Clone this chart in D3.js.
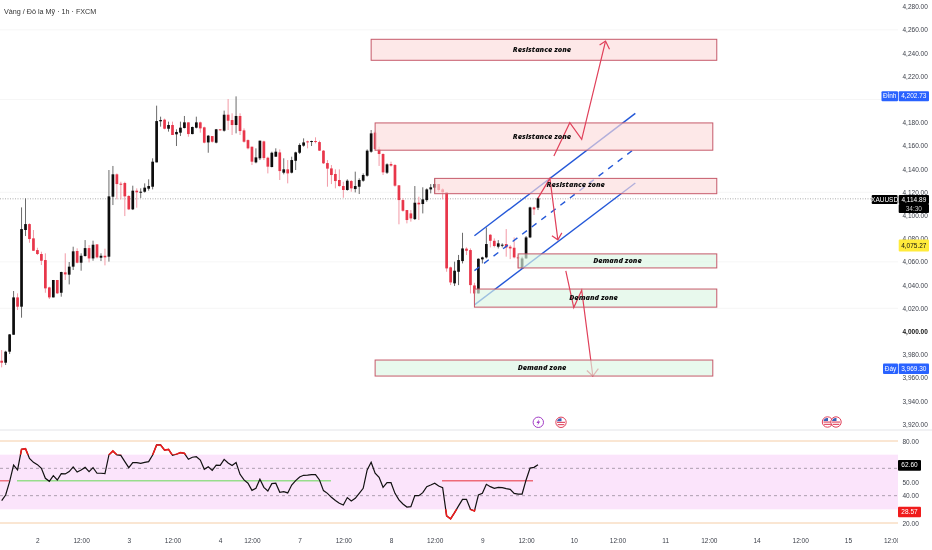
<!DOCTYPE html>
<html lang="vi">
<head>
  <meta charset="UTF-8" />
  <title>XAUUSD 1h</title>
  <script src="https://cdn.jsdelivr.net/npm/d3@7/dist/d3.min.js"></script>
  <style>
    html, body { margin: 0; padding: 0; background: #fff; }
    svg { display: block; font-family: "Liberation Sans", Arial, sans-serif; filter: blur(0.3px); }
    .tick-label text { font-size: 6.5px; fill: #3a3e48; }
    .zone-label { font-family: "Open Sans", sans-serif; font-size: 7.4px; font-weight: 800; font-style: italic; fill: #111; text-anchor: middle; dominant-baseline: middle; }
    .tag { font-size: 6.5px; text-anchor: middle; dominant-baseline: middle; }
  </style>
</head>
<body>
<svg id="chart" width="932" height="550"></svg>
<script>
// hourly candles
const opens = [3974.8,3973.1,3982.6,3997.2,4029.4,4021.4,4087.5,4092.6,4080.3,4070.2,4066.8,4061.6,4038,4029.4,4044.4,4033.4,4051,4049,4055.9,4069.4,4059.3,4065.1,4071.9,4063,4075.1,4063.6,4065.3,4064.5,4116.2,4135.5,4127.4,4128,4116.8,4105.3,4121.4,4119.7,4120.5,4123.1,4124.8,4145.8,4181.2,4182.6,4174.8,4178,4170,4171.4,4175.4,4180.3,4170.2,4175.7,4180.3,4176,4163,4168.5,4162.8,4174.3,4173.1,4186.9,4182.3,4178,4185.8,4173.4,4165,4159.3,4145.8,4149.3,4163.9,4149.8,4141.8,4150.7,4154.4,4136.9,4139.8,4136.9,4147.2,4154.1,4160.2,4163.9,4163.6,4164.2,4163.3,4155.9,4145.2,4140.6,4135.8,4130.6,4125.4,4122,4129.7,4122.8,4124.8,4130,4134.3,4155,4171.4,4157,4153,4136.9,4144.4,4143.5,4126,4113.3,4104.7,4101.8,4096.9,4111,4109.9,4113.3,4122.5,4124,4127.1,4122.5,4120,4055.3,4041.5,4051.5,4060.7,4071.4,4070.2,4039.7,4032.8,4062.2,4063.9,4083.4,4078.2,4073.1,4074,4075.4,4073.1,4072.2,4063.9,4054.4,4063,4081.1,4107,4106.7];
const highs = [3984,3983.4,3997.8,4034.9,4032.9,4107,4114.8,4093.2,4087.5,4072.2,4068.8,4067.4,4038.6,4044.4,4044.4,4051.5,4067.4,4059.9,4073.1,4071.7,4067.4,4078.8,4074.5,4078.3,4075.4,4067.4,4071.4,4139.2,4142.7,4136.3,4129.1,4129.1,4117.6,4125.7,4123.4,4123.4,4127.7,4131.2,4149.3,4194.7,4185.2,4183.5,4180.9,4180.9,4174.3,4180.9,4185.8,4180.3,4176.6,4185.2,4180.9,4176.6,4169.4,4168.5,4174.6,4174.3,4190.4,4200.4,4188.1,4202.7,4188.1,4175.1,4165.6,4159.3,4157.9,4164.5,4164.5,4150.7,4155,4157.9,4157,4149.3,4147.8,4150.7,4155,4162.2,4166.5,4164.5,4164.5,4167.4,4164.5,4156.4,4147.8,4143.5,4139.8,4139.8,4129.1,4131.2,4130.6,4137.8,4132,4136.3,4157,4173.7,4172.3,4159.3,4153.6,4145,4146.4,4144.4,4126.3,4114.8,4104.7,4104.7,4125.4,4116.2,4124.3,4123.4,4127.1,4132,4127.1,4123.4,4120,4055.9,4060.2,4066,4085.1,4072.5,4071.6,4042,4063,4064.5,4089.7,4084,4080.3,4078.8,4076,4088.3,4074.5,4081.1,4065.9,4064.5,4082.3,4107.6,4107.6,4115.6];
const lows = [3969.1,3971.1,3980.6,3997.2,4018.5,4011.9,4082.3,4076.5,4069.6,4065.9,4057.3,4033.4,4028,4029.4,4032.3,4030,4044.4,4040.6,4053,4058.7,4052.4,4064.5,4059.6,4061,4063,4060.7,4057,4060.2,4109,4113.9,4113.9,4099.5,4104.7,4104.7,4106.7,4115.1,4119.7,4121.4,4122.5,4145.8,4176.6,4174.3,4172.3,4169.4,4159.9,4168.5,4175.1,4167.9,4170,4175.1,4171.4,4162.2,4154.1,4162.8,4162.2,4173.1,4172.3,4173.7,4169.4,4170.8,4169.4,4162.8,4157,4143.5,4145,4147.8,4147.8,4136.3,4141.5,4150.7,4130.6,4135.5,4127.7,4136.3,4139.2,4153,4159.3,4157.9,4159.9,4162.2,4155.6,4144.4,4124.8,4127.1,4123.4,4124.8,4115.3,4121.4,4120.5,4119.9,4118.5,4129.1,4133.5,4154.1,4155.9,4142.7,4134.9,4135.8,4142.1,4124.8,4092.4,4103.3,4093.2,4094.7,4096.1,4096.1,4101.8,4111.9,4119.1,4119.1,4120.5,4113.9,4051.5,4040,4039.2,4040,4058.7,4065.9,4032.8,4024.2,4032.8,4058.7,4063,4072.5,4072.5,4071.6,4072.5,4064.5,4062.4,4063,4054.4,4054.4,4062.7,4080.5,4100.4,4104.7];
const closes = [3973.1,3982.6,3997.5,4029.4,4021.4,4088.3,4092.6,4079.7,4069.6,4066.8,4061,4037.2,4029.4,4044.4,4032.9,4051.3,4049.2,4055.9,4069.1,4059.3,4065.3,4071.9,4063,4074.8,4063.9,4065.3,4063.9,4116.5,4135.5,4127.1,4126.8,4116.5,4105.3,4121.4,4120,4120.5,4124,4125.4,4146.4,4181.4,4182.3,4174.8,4178,4169.4,4172,4175.7,4180.3,4170.2,4176.3,4180.3,4175.1,4162.8,4168.8,4163.6,4174.3,4173.7,4186.9,4181.7,4178,4185.8,4172.8,4163.6,4157.9,4146.4,4150.1,4164.5,4149.5,4142.1,4154.1,4155,4138.3,4139.8,4136.3,4147.8,4154.4,4160.8,4163,4163.3,4164.2,4163.6,4155.9,4145,4140.4,4134.9,4129.7,4125.4,4122,4130,4123.4,4125.4,4130.6,4134.9,4155.9,4170.8,4157.3,4153,4137.2,4144.1,4143,4125.7,4113.3,4104.1,4096.1,4097.5,4111,4109.6,4113.9,4122.5,4124.3,4127.1,4122,4120,4054.4,4042.3,4052.4,4061.6,4071.6,4069.6,4040,4032.8,4062.7,4063.9,4075.4,4078.2,4073.7,4076,4074.8,4072.5,4071.6,4063.9,4063.3,4063,4081.1,4107,4105.3,4114.89];

// RSI(14), one value per candle
const rsiValues = [36.4,40.5,50.3,62.4,58.8,73.9,74.4,67.3,64.4,62.7,60,52.7,50.5,54.6,51.5,56.1,55.9,57.6,61,57.3,58.8,60.7,57.6,60.5,56.4,56.4,56.1,69.8,72.7,69.8,69.5,64.9,60.5,64.2,64.2,63.7,64.4,64.9,69.8,77.1,77.1,73.4,73.9,69.5,70.3,71.5,71,66.6,68.1,68.5,66.1,59.3,61.2,58.5,62.4,62.2,66.6,63.9,62,64.2,55.6,51.5,49.1,43.9,45.4,52,46.1,43.4,48.8,49.1,42.5,42.9,42,47.8,51,53.7,54.9,55.1,55.4,55.4,51.5,43.7,41.7,38.8,36.4,34.4,33.2,38.6,36.1,38.1,41.7,45.4,58.8,64.4,56.4,53.4,46.1,49.5,49.5,41.7,36.9,33.9,31.7,32,40,40,42.2,46.6,47.8,49.1,47.1,45.9,25.2,23,27.6,32.5,37.3,37.3,30,28.8,40.5,41.7,48.3,46.6,45.4,46.1,45.9,45.1,44.6,41.7,41.2,41.2,51.5,60.2,60.7,62.6];

const priceTicks = [3920,3940,3960,3980,4000,4020,4040,4060,4080,4100,4120,4140,4160,4180,4220,4240,4260,4280];
const gridPrices = [4260,4200,4120,4060,4020];
const rsiTicks = [80,50,40,20];
const timeTickBars = [9,20,32,43,55,63,75,86,98,109,121,132,144,155,167,178,190,201,213,224];
const timeTickLabels = ["2","12:00","3","12:00","4","12:00","7","12:00","8","12:00","9","12:00","10","12:00","11","12:00","14","12:00","15","12:00"];

const lastPrice = 4114.89, highPrice = 4202.73, lowPrice = 3969.30, alertPrice = 4075.27;
const rsiLast = 62.60, rsiLow = 28.57;

// drawn zones: [first bar, last bar, top price, bottom price]
const zoneNames = ["Resistance zone","Resistance zone","Resistance zone","Demand zone","Demand zone","Demand zone"];
const zoneBars = [[93,180],[94,179],[109,180],[130,180],[119,180],[94,179]];
const zoneTops = [4251.9,4179.8,4132,4066.9,4036.6,3975.4];
const zoneBottoms = [4233.8,4156.3,4118.8,4054.8,4021,3961.6];
const zoneLabelBars = [136,136,144.5,155,149,136];
const zoneLabelPrices = [4243,4168,4126,4060.5,4029,3968.5];

// channel: [bar, price] ends of upper, middle and lower lines
const channelBars = [119,159.5];
const channelUpper = [4082.5,4188];
const channelMiddle = [4052.5,4158];
const channelLower = [4023,4128];

// forecast arrows as [bar, price]
const arrowUp = [[139,4151.3],[143,4180],[146,4165.7],[152,4250.4]];
const arrowUpHead = [[150.5,4247],[153,4243.3]];
const arrowTurn = [[135,4115],[138,4132],[140,4079]];
const arrowTurnHead = [[138.5,4082.5],[141,4085]];
const arrowDown = [[142,4052.2],[144,4020.6],[146,4035.6],[148.8,3961.6]];
const arrowDownHead = [[147.3,3966.4],[150.2,3967.9]];

const svg = d3.select("#chart");
const paneRight = 898, sepY = 430;

const x = d3.scaleLinear().domain([0,135]).range([1.67,538]);
const y = d3.scaleLinear().domain([3920,4280]).range([331.5 + 80*1.16, 331.5 - 280*1.16]);
const yRsi = d3.scaleLinear().domain([20,80]).range([523,441]);

const defs = svg.append("defs");
defs.append("clipPath").attr("id","time-clip").append("rect").attr("x",0).attr("y",-6).attr("width",paneRight).attr("height",20);
defs.append("clipPath").attr("id","rsi-high").append("rect").attr("x",0).attr("y",430).attr("width",paneRight).attr("height",yRsi(70)-430);
defs.append("clipPath").attr("id","rsi-low").append("rect").attr("x",0).attr("y",yRsi(30)).attr("width",paneRight).attr("height",530-yRsi(30));

// faint grid
svg.append("g").selectAll("line").data(gridPrices).join("line")
  .attr("x1",0).attr("x2",paneRight).attr("y1",d=>y(d)).attr("y2",d=>y(d))
  .attr("stroke","#f6f6f6");

// pane separator
svg.append("line").attr("x1",0).attr("x2",932).attr("y1",sepY).attr("y2",sepY).attr("stroke","#e3e4e8");

// last price line
svg.append("line").attr("x1",0).attr("x2",872).attr("y1",y(lastPrice)+0.6).attr("y2",y(lastPrice)+0.6)
  .attr("stroke","#777").attr("stroke-width",0.6).attr("stroke-dasharray","1 1.5");

// candles
const bars = d3.range(opens.length);
const red = "#e8364a", black = "#0d0d0d";
svg.append("g").selectAll("line").data(bars).join("line")
  .attr("x1",x).attr("x2",x)
  .attr("y1",i=>y(highs[i])).attr("y2",i=>y(lows[i]))
  .attr("stroke",i=>closes[i]>=opens[i] ? "#6b6b6b" : "#f29aa6")
  .attr("stroke-width",1);
svg.append("g").selectAll("rect").data(bars).join("rect")
  .attr("x",i=>x(i)-1.35).attr("width",2.7)
  .attr("y",i=>y(Math.max(opens[i],closes[i])))
  .attr("height",i=>Math.max(1,Math.abs(y(opens[i])-y(closes[i]))))
  .attr("fill",i=>closes[i]>=opens[i] ? black : red);

// channel, under the zones so they tint it
function channel(prices, dash) {
  svg.append("line")
    .attr("x1",x(channelBars[0])).attr("x2",x(channelBars[1]))
    .attr("y1",y(prices[0])).attr("y2",y(prices[1]))
    .attr("stroke","#2458d8").attr("stroke-width",1.4)
    .attr("stroke-dasharray",dash);
}
channel(channelUpper,null);
channel(channelMiddle,"6 6");
channel(channelLower,null);

const lineGen = d3.line().x(d=>x(d[0])).y(d=>y(d[1]));
function arrow(points, head) {
  const tip = points[points.length-1];
  const g = svg.append("g").attr("fill","none").attr("stroke","#e0405a").attr("stroke-width",1.2);
  g.append("path").attr("d",lineGen(points));
  g.append("path").attr("d",lineGen([head[0],tip,head[1]]));
}

// zones
function drawZone(i) {
  svg.append("rect")
    .attr("x",x(zoneBars[i][0])).attr("width",x(zoneBars[i][1])-x(zoneBars[i][0]))
    .attr("y",y(zoneTops[i])).attr("height",y(zoneBottoms[i])-y(zoneTops[i]))
    .attr("fill",zoneNames[i]=="Demand zone" ? "#dcf6e3" : "#fcdcdc")
    .attr("fill-opacity",0.66)
    .attr("stroke","#c65a6a").attr("stroke-width",1);
}
[0,1,2,3,4].forEach(drawZone);
// the lower arrow sits over the middle zone but under the last one
arrow(arrowDown,arrowDownHead);
drawZone(5);

arrow(arrowUp,arrowUpHead);
arrow(arrowTurn,arrowTurnHead);

svg.append("g").selectAll("text").data(d3.range(zoneNames.length)).join("text")
  .attr("class","zone-label")
  .attr("x",i=>x(zoneLabelBars[i])).attr("y",i=>y(zoneLabelPrices[i]))
  .text(i=>zoneNames[i]);

// RSI pane
svg.append("rect").attr("x",0).attr("width",paneRight)
  .attr("y",yRsi(70)).attr("height",yRsi(30)-yRsi(70)).attr("fill","#fbe4fb");
svg.append("g").selectAll("line").data([80,20]).join("line")
  .attr("x1",0).attr("x2",paneRight).attr("y1",d=>yRsi(d)).attr("y2",d=>yRsi(d))
  .attr("stroke","#f5cda6");
svg.append("g").selectAll("line").data([60,40]).join("line")
  .attr("x1",0).attr("x2",paneRight).attr("y1",d=>yRsi(d)).attr("y2",d=>yRsi(d))
  .attr("stroke","#8d7f8f").attr("stroke-width",0.7).attr("stroke-dasharray","3 3");

// levels drawn on RSI
const rsiLevel = 50.9;
svg.append("line").attr("x1",0).attr("x2",9).attr("y1",yRsi(rsiLevel)).attr("y2",yRsi(rsiLevel)).attr("stroke","#ee6a78").attr("stroke-width",1.4);
svg.append("line").attr("x1",17).attr("x2",331).attr("y1",yRsi(rsiLevel)).attr("y2",yRsi(rsiLevel)).attr("stroke","#97dd8c").attr("stroke-width",1.4);
svg.append("line").attr("x1",442).attr("x2",533).attr("y1",yRsi(rsiLevel)).attr("y2",yRsi(rsiLevel)).attr("stroke","#ee6a78").attr("stroke-width",1.4);

const rsiLine = d3.line().x((d,i)=>x(i)).y(d=>yRsi(d));
svg.append("path").attr("d",rsiLine(rsiValues)).attr("fill","none").attr("stroke","#111").attr("stroke-width",1.2);
svg.append("path").attr("d",rsiLine(rsiValues)).attr("fill","none").attr("stroke","#f01c1c").attr("stroke-width",1.6).attr("clip-path","url(#rsi-high)");
svg.append("path").attr("d",rsiLine(rsiValues)).attr("fill","none").attr("stroke","#f01c1c").attr("stroke-width",1.6).attr("clip-path","url(#rsi-low)");

// event icons
function flag(cx, cy) {
  const g = svg.append("g").attr("transform",`translate(${cx},${cy})`);
  g.append("circle").attr("r",5.2).attr("fill","#fff").attr("stroke","#e0405a").attr("stroke-width",1);
  g.append("rect").attr("x",-4).attr("y",-0.5).attr("width",8).attr("height",1.1).attr("fill","#e0405a");
  g.append("rect").attr("x",-3.4).attr("y",1.8).attr("width",6.8).attr("height",1.1).attr("fill","#e0405a");
  g.append("path").attr("d","M-4,-1 A4,4 0 0 1 0.5,-4 L0.5,-1 Z").attr("fill","#3b5fb5");
}
const bolt = svg.append("g").attr("transform","translate(538.3,422.3)");
bolt.append("circle").attr("r",5.2).attr("fill","#fff").attr("stroke","#a13cc4").attr("stroke-width",1);
bolt.append("path").attr("d","M1,-3.4 L-1.9,0.6 L-0.1,0.6 L-1,3.4 L1.9,-0.7 L0.1,-0.7 Z").attr("fill","#a13cc4");
flag(561,422.3);
flag(827.5,422);
flag(836,422);

// axes
const priceAxis = svg.append("g").attr("class","tick-label").attr("transform","translate(902.5,0)")
  .call(d3.axisRight(y).tickValues(priceTicks).tickSize(0).tickPadding(0).tickFormat(d3.format(",.2f")));
priceAxis.select(".domain").remove();
priceAxis.selectAll(".tick").filter(d=>d==4000).select("text").attr("font-weight","bold").style("fill","#111");

const rsiAxis = svg.append("g").attr("class","tick-label").attr("transform","translate(902.5,0)")
  .call(d3.axisRight(yRsi).tickValues(rsiTicks).tickSize(0).tickPadding(0).tickFormat(d3.format(".2f")));
rsiAxis.select(".domain").remove();

const timeAxis = svg.append("g").attr("class","tick-label").attr("transform","translate(0,538)").attr("clip-path","url(#time-clip)")
  .call(d3.axisBottom(x).tickValues(timeTickBars).tickSize(0).tickPadding(0).tickFormat((d,i)=>timeTickLabels[i]));
timeAxis.select(".domain").remove();

// price tags
function tag(x0, x1, y0, y1, fill, color, label) {
  svg.append("rect").attr("x",x0).attr("y",y0).attr("width",x1-x0).attr("height",y1-y0).attr("fill",fill).attr("rx",1);
  svg.append("text").attr("class","tag").attr("x",(x0+x1)/2).attr("y",(y0+y1)/2+0.3).attr("fill",color).text(label);
}
const fmt = d3.format(",.2f");
tag(881.5,898,y(highPrice)-5,y(highPrice)+5,"#2962ff","#fff","Đỉnh");
tag(898.7,929,y(highPrice)-5,y(highPrice)+5,"#2962ff","#fff",fmt(highPrice));
tag(871.7,897.5,195,204,"#000","#fff","XAUUSD");
tag(898.7,929,195,204,"#000","#fff",fmt(lastPrice));
tag(898.7,929,204,213,"#000","#ccc","34:30");
tag(898.7,929,239.5,251.5,"#ffeb3b","#111",fmt(alertPrice));
tag(883,898,363.5,374,"#2962ff","#fff","Đáy");
tag(898.7,929,363.5,374,"#2962ff","#fff",fmt(lowPrice));
tag(898,921,460,470.7,"#000","#fff",fmt(rsiLast));
tag(898,921,506.7,517.3,"#f01c1c","#fff",fmt(rsiLow));

svg.append("text").attr("x",4).attr("y",13.5).attr("font-size",7.2).attr("fill","#333").text("Vàng / Đô la Mỹ · 1h · FXCM");
</script>
</body>
</html>
